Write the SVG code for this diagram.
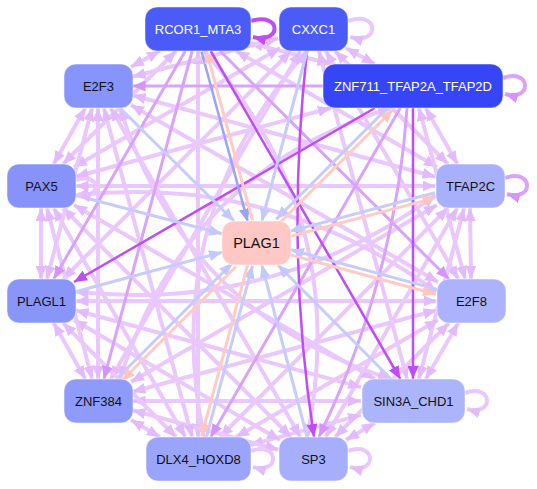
<svg xmlns="http://www.w3.org/2000/svg" width="537" height="489" viewBox="0 0 537 489">
<defs>
<style>
.e{fill:none;stroke:#eac8fd;stroke-width:4;marker-start:url(#aL);marker-end:url(#aL)}
.m{fill:none;stroke:#d9a2fb;stroke-width:3;marker-end:url(#aM)}
.v{fill:none;stroke:#c04cf8;stroke-width:2.5;marker-end:url(#aV)}
.b{fill:none;stroke:#c6ccfc;stroke-width:3;marker-end:url(#aB)}
.d{fill:none;stroke:#9aa4f8;stroke-width:2.5;marker-end:url(#aD)}
.p{fill:none;stroke:#ffcbc4;stroke-width:3;marker-end:url(#aP)}
.le{fill:none;stroke:#eac8fd;stroke-width:4;marker-end:url(#aL)}
.lm{fill:none;stroke:#d9a2fb;stroke-width:4;marker-end:url(#aM)}
.lv{fill:none;stroke:#c04cf8;stroke-width:4;marker-end:url(#aV)}
.n rect{stroke:#ffffff;stroke-opacity:0.5;stroke-width:1}
.n text{font-family:"Liberation Sans",Arial,sans-serif;font-size:13px;text-anchor:middle;fill:#111111}
.n text.w{fill:#ffffff}
</style>
<marker id="aL" viewBox="0 0 13 11" refX="13" refY="5.5" markerWidth="13" markerHeight="11" markerUnits="userSpaceOnUse" orient="auto-start-reverse"><path d="M0,0L13,5.5L0,11z" fill="#e3bafc"/></marker>
<marker id="aM" viewBox="0 0 13 11" refX="13" refY="5.5" markerWidth="13" markerHeight="11" markerUnits="userSpaceOnUse" orient="auto-start-reverse"><path d="M0,0L13,5.5L0,11z" fill="#d594fa"/></marker>
<marker id="aV" viewBox="0 0 13 11" refX="13" refY="5.5" markerWidth="13" markerHeight="11" markerUnits="userSpaceOnUse" orient="auto-start-reverse"><path d="M0,0L13,5.5L0,11z" fill="#c04cf8"/></marker>
<marker id="aB" viewBox="0 0 13 11" refX="13" refY="5.5" markerWidth="13" markerHeight="11" markerUnits="userSpaceOnUse" orient="auto-start-reverse"><path d="M0,0L13,5.5L0,11z" fill="#c3c9fc"/></marker>
<marker id="aD" viewBox="0 0 13 11" refX="13" refY="5.5" markerWidth="13" markerHeight="11" markerUnits="userSpaceOnUse" orient="auto-start-reverse"><path d="M0,0L13,5.5L0,11z" fill="#97a2f8"/></marker>
<marker id="aP" viewBox="0 0 13 11" refX="13" refY="5.5" markerWidth="13" markerHeight="11" markerUnits="userSpaceOnUse" orient="auto-start-reverse"><path d="M0,0L13,5.5L0,11z" fill="#ffc6bf"/></marker>
</defs>
<rect width="537" height="489" fill="#ffffff"/>
<g id="edges">
<path class="e" d="M250,42.9L330.9,64"/>
<path class="e" d="M236.1,51L437,167"/>
<path class="e" d="M203.9,51Q352.1,218.1 307.1,437"/>
<path class="e" d="M198,51L198,437"/>
<path class="e" d="M176,51L63,164"/>
<path class="e" d="M159.9,51L131,67"/>
<path class="e" d="M346,48L374.9,64"/>
<path class="e" d="M335,51L448,164"/>
<path class="e" d="M325.7,51L458.3,279"/>
<path class="e" d="M318.9,51L407.1,379"/>
<path class="e" d="M307.1,51Q158.9,218.1 203.9,437"/>
<path class="e" d="M300.3,51L110.7,379"/>
<path class="e" d="M291,51L63,279"/>
<path class="e" d="M280,48L74,167"/>
<path class="e" d="M278.5,38.2L132.5,76.8"/>
<path class="e" d="M425.7,108L457.3,164"/>
<path class="e" d="M418.9,108L465.1,279"/>
<path class="e" d="M391,108Q184.8,172.8 120,379"/>
<path class="e" d="M330.9,108L75.5,176.8"/>
<path class="e" d="M464.1,208L418.9,379"/>
<path class="e" d="M457.3,208L325.7,437"/>
<path class="e" d="M448,208L220,437"/>
<path class="e" d="M437,205L131,382"/>
<path class="e" d="M435.5,195.2Q274.1,313.1 75.5,291.8"/>
<path class="e" d="M435.5,186L75.5,186"/>
<path class="e" d="M435.5,176.8L132.5,95.2"/>
<path class="e" d="M470,208L471,279"/>
<path class="e" d="M458.3,323L425.7,379"/>
<path class="e" d="M449,323L335,437"/>
<path class="e" d="M438,320L236.1,437"/>
<path class="e" d="M436.5,310.2L132.5,391.8"/>
<path class="e" d="M436.5,301L75.5,301"/>
<path class="e" d="M436.5,291.8Q274.1,173.9 75.5,195.2"/>
<path class="e" d="M438,282L131,105"/>
<path class="e" d="M374.9,423L346,440"/>
<path class="e" d="M361,414.9L250,445.1"/>
<path class="e" d="M361,401L132.5,401"/>
<path class="e" d="M361,387.1L75.5,310.2"/>
<path class="e" d="M374.9,379L74,205"/>
<path class="e" d="M391,379Q184.8,314.2 120,108"/>
<path class="e" d="M278.5,449.8L132.5,410.2"/>
<path class="e" d="M280,440L74,320"/>
<path class="e" d="M291,437L63,208"/>
<path class="e" d="M300.3,437L110.7,108"/>
<path class="e" d="M159.9,437L131,420"/>
<path class="e" d="M176,437L63,323"/>
<path class="e" d="M185.3,437L53.7,208"/>
<path class="e" d="M192.1,437L103.9,108"/>
<path class="e" d="M85.3,379L53.7,323"/>
<path class="e" d="M92.1,379L46.9,208"/>
<path class="e" d="M98,379L98,108"/>
<path class="e" d="M41,279L41,208"/>
<path class="e" d="M46.9,279L92.1,108"/>
<path class="e" d="M53.7,164L85.3,108"/>
<path class="m" d="M220,51L449,279"/>
<path class="m" d="M192.1,51L103.9,379"/>
<path class="m" d="M185.3,51L53.7,279"/>
<path class="m" d="M400.3,108L210.7,437"/>
<path class="m" d="M323,86L132.5,86"/>
<path class="m" d="M407.1,108Q395,280 318.9,437"/>
<path class="v" d="M210.7,51L400.3,379"/>
<path class="v" d="M413,108L413,379"/>
<path class="v" d="M374.9,108L74,282"/>
<path class="v" d="M307,51Q285,250 314,437"/>
<path class="d" d="M201.5,51.7L247.7,221.7"/>
<path class="p" d="M252.5,220.4L206.3,50.4"/>
<path class="b" d="M307.1,51L261.9,221"/>
<path class="b" d="M389.2,106.2L276.2,219.2"/>
<path class="p" d="M279.8,222.8L392.8,109.8"/>
<path class="b" d="M434.9,192.8L289.4,231.4"/>
<path class="p" d="M290.6,236.2L436.1,197.6"/>
<path class="b" d="M437.2,289.4L290.7,249.8"/>
<path class="p" d="M289.4,254.6L435.9,294.2"/>
<path class="b" d="M391,379L278,265"/>
<path class="b" d="M307.1,437L261.9,265"/>
<path class="b" d="M206.3,437.6L252.5,265.6"/>
<path class="p" d="M247.7,264.4L201.5,436.4"/>
<path class="b" d="M118.2,377.2L232.2,263.2"/>
<path class="p" d="M235.8,266.8L121.8,380.8"/>
<path class="b" d="M75.5,291.8L222,252.2"/>
<path class="b" d="M75.5,195.2L222,233.8"/>
<path class="b" d="M120,108L234,221"/>
<path class="lv" d="M251,21C282,12 282,44 253,37"/>
<path class="le" d="M348,21C380,10 380,46 350,37"/>
<path class="lm" d="M503,78C532,68 532,102 505,94"/>
<path class="lm" d="M505,178C534,168 534,202 507,194"/>
<path class="le" d="M465,393C494,383 494,417 467,409"/>
<path class="le" d="M348,451C377,441 377,475 350,467"/>
<path class="le" d="M251,451C280,441 280,475 253,467"/>
<path class="le" d="M76,180C102,172 102,200 78,194"/>
</g>
<g id="n-RCOR1_MTA3" class="n"><rect x="145" y="7" width="106" height="44" rx="12" fill="#4a5bf7"/><text class="w" x="198" y="33.5">RCOR1_MTA3</text></g>
<g id="n-CXXC1" class="n"><rect x="279" y="7" width="69" height="44" rx="12" fill="#4a5bf7"/><text class="w" x="313.5" y="33.5">CXXC1</text></g>
<g id="n-ZNF711_TFAP2A_TFAP2D" class="n"><rect x="323" y="64" width="180" height="44" rx="12" fill="#3646f6"/><text class="w" x="413" y="90.5">ZNF711_TFAP2A_TFAP2D</text></g>
<g id="n-E2F3" class="n"><rect x="64" y="64" width="69" height="44" rx="12" fill="#8794fb"/><text x="98.5" y="90.5">E2F3</text></g>
<g id="n-PAX5" class="n"><rect x="7" y="164" width="69" height="44" rx="12" fill="#8793fa"/><text x="41.5" y="190.5">PAX5</text></g>
<g id="n-TFAP2C" class="n"><rect x="436" y="164" width="69" height="44" rx="12" fill="#a8b0fc"/><text x="470.5" y="190.5">TFAP2C</text></g>
<g id="n-PLAG1" class="n"><rect x="222" y="221" width="69" height="44" rx="12" fill="#ffc8c4"/><text x="256.5" y="248.3" style="font-size:14.5px">PLAG1</text></g>
<g id="n-PLAGL1" class="n"><rect x="7" y="279" width="69" height="44" rx="12" fill="#8a95fa"/><text x="41.5" y="305.5">PLAGL1</text></g>
<g id="n-E2F8" class="n"><rect x="437" y="279" width="69" height="44" rx="12" fill="#acb3fc"/><text x="471.5" y="305.5">E2F8</text></g>
<g id="n-ZNF384" class="n"><rect x="64" y="379" width="69" height="44" rx="12" fill="#8f9bfb"/><text x="98.5" y="405.5">ZNF384</text></g>
<g id="n-SIN3A_CHD1" class="n"><rect x="362" y="379" width="103" height="44" rx="12" fill="#acb4fc"/><text x="413.5" y="405.5">SIN3A_CHD1</text></g>
<g id="n-DLX4_HOXD8" class="n"><rect x="146" y="437" width="105" height="44" rx="12" fill="#9aa4fb"/><text x="198.5" y="463.5">DLX4_HOXD8</text></g>
<g id="n-SP3" class="n"><rect x="279" y="437" width="69" height="44" rx="12" fill="#a7affc"/><text x="313.5" y="463.5">SP3</text></g>
</svg>
